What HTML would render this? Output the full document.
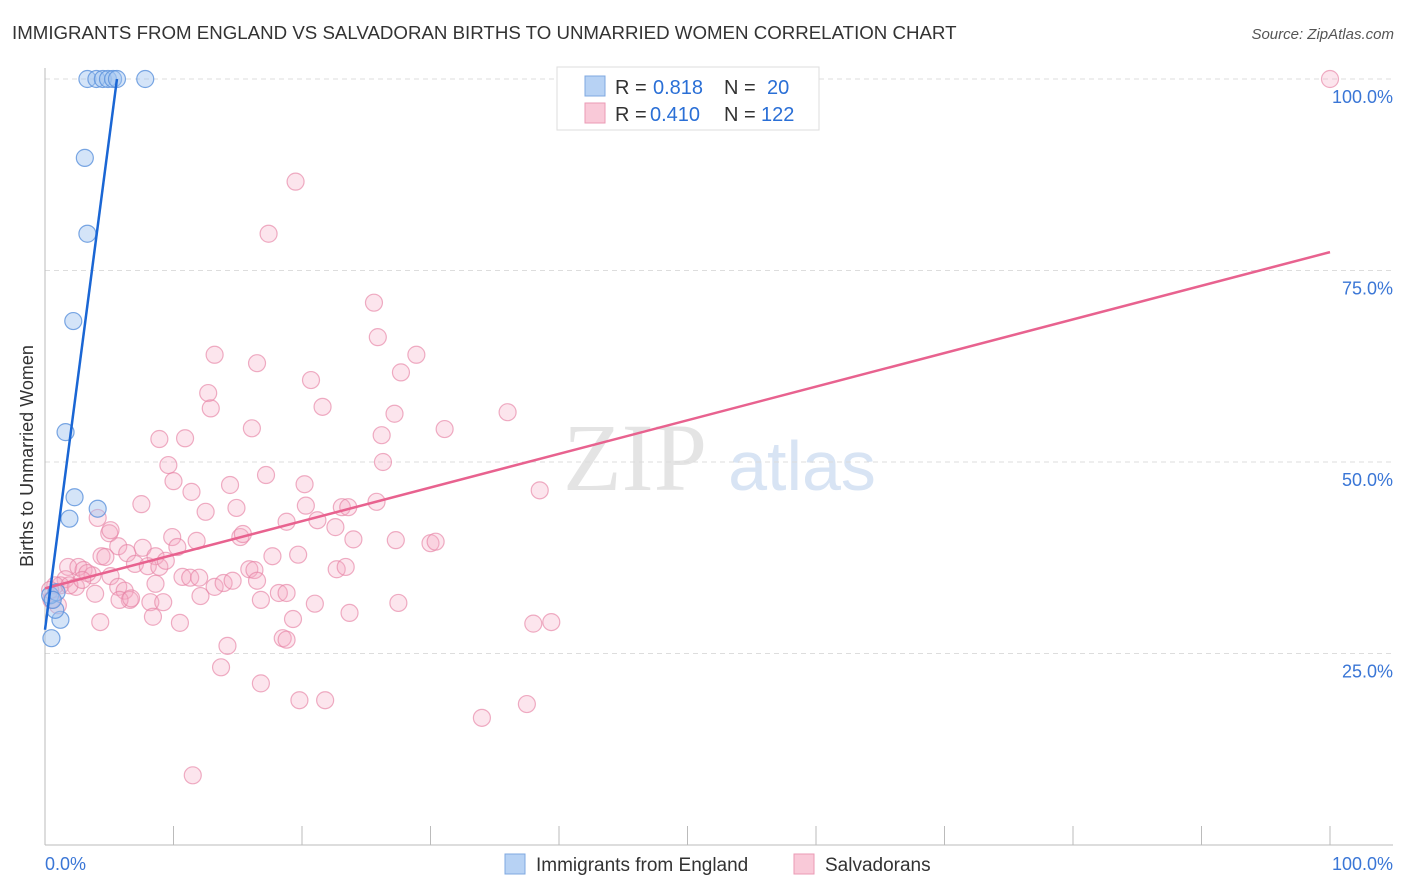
<!DOCTYPE html>
<html><head><meta charset="utf-8"><style>
body{margin:0;background:#fff;font-family:"Liberation Sans",sans-serif}
svg{display:block}
</style></head><body>
<svg id="chart" width="1406" height="892">
<text x="12" y="39" font-size="18.7" fill="#333">IMMIGRANTS FROM ENGLAND VS SALVADORAN BIRTHS TO UNMARRIED WOMEN CORRELATION CHART</text>
<text x="1394" y="39" font-size="15" fill="#555" font-style="italic" text-anchor="end">Source: ZipAtlas.com</text>
<text x="33" y="456" font-size="18" fill="#333" text-anchor="middle" transform="rotate(-90 33 456)">Births to Unmarried Women</text>
<text x="635" y="490" font-size="96" fill="#e4e4e4" font-family="Liberation Serif,serif" text-anchor="middle">ZIP</text>
<text x="802" y="490" font-size="70" fill="#d8e4f4" text-anchor="middle">atlas</text>
<g id="grid"></g><g id="axes"></g><g id="pts"></g><g id="lines"></g>
<g>
<rect x="557" y="67" width="262" height="63" fill="#fff" stroke="#ddd"/>
<rect x="585" y="76" width="20" height="20" fill="#b7d2f4" stroke="#7fa8e0"/>
<rect x="585" y="103" width="20" height="20" fill="#f9c9d8" stroke="#eb9ab5"/>
<g font-size="20" fill="#333">
<text x="615" y="94">R =</text>
<text x="653" y="94" fill="#2a6fd6">0.818</text>
<text x="724" y="94">N =</text>
<text x="767" y="94" fill="#2a6fd6">20</text>
<text x="615" y="121">R =</text>
<text x="650" y="121" fill="#2a6fd6">0.410</text>
<text x="724" y="121">N =</text>
<text x="761" y="121" fill="#2a6fd6">122</text>
</g>
</g>
<g>
<rect x="505" y="854" width="20" height="20" fill="#b7d2f4" stroke="#7fa8e0"/>
<text x="536" y="871" font-size="19" fill="#333">Immigrants from England</text>
<rect x="794" y="854" width="20" height="20" fill="#f9c9d8" stroke="#eb9ab5"/>
<text x="825" y="871" font-size="19" fill="#333">Salvadorans</text>
</g>
</svg>
<script>
const blueX=[3.3,4.0,4.5,4.9,5.3,5.6,7.8,3.1,3.3,2.2,1.6,2.3,1.9,4.1,0.5,1.2,0.8,0.4,0.9,0.6];
const blueY=[100,100,100,100,100,100,100,89.7,79.8,68.4,53.9,45.4,42.6,43.9,27.0,29.4,30.7,32.6,33.0,32.0];
const pinkX=[100,19.5,17.4,25.6,25.9,28.9,13.2,16.5,27.7,20.7,12.7,12.9,21.6,27.2,16.1,31.1,8.9,10.9,26.2,36.0,9.6,26.3,17.2,10.0,11.4,14.4,20.2,38.5,7.5,14.9,20.3,25.8,12.5,4.1,23.1,23.6,18.8,21.2,22.6,5.0,9.9,11.8,15.2,15.4,24.0,27.3,30.0,30.4,5.7,4.4,6.4,7.6,8.6,10.3,17.7,19.7,4.7,7.0,8.0,8.9,9.4,1.8,2.6,3.0,3.7,3.3,15.9,16.3,22.7,23.4,1.6,1.2,2.4,5.1,10.7,11.3,12.0,8.6,13.2,13.9,14.6,16.5,18.2,18.8,3.9,5.7,6.2,6.6,5.8,12.1,16.8,21.0,6.7,8.2,9.2,23.7,27.5,4.3,8.4,10.5,19.3,38.0,39.4,14.2,18.5,18.8,13.7,16.8,19.8,21.8,37.5,34.0,11.5,0.5,0.8,1.0,0.4,1.9,2.9,5.1];
const pinkY=[100,86.6,79.8,70.8,66.3,64.0,64.0,62.9,61.7,60.7,59.0,57.0,57.2,56.3,54.4,54.3,53.0,53.1,53.5,56.5,49.6,50.0,48.3,47.5,46.1,47.0,47.1,46.3,44.5,44.0,44.3,44.8,43.5,42.7,44.1,44.1,42.2,42.4,41.5,40.7,40.2,39.7,40.2,40.6,39.9,39.8,39.4,39.6,39.0,37.7,38.1,38.8,37.7,38.9,37.7,37.9,37.6,36.7,36.4,36.3,37.1,36.3,36.3,35.9,35.2,35.5,36.0,35.9,36.0,36.3,34.7,33.9,33.7,35.1,35.0,34.9,34.9,34.1,33.7,34.2,34.5,34.5,32.9,32.9,32.8,33.7,33.2,32.0,32.0,32.5,32.0,31.5,32.2,31.7,31.7,30.3,31.6,29.1,29.8,29.0,29.5,28.9,29.1,26.0,27.0,26.8,23.2,21.1,18.9,18.9,18.4,16.6,9.1,32.0,33.9,31.3,33.3,33.9,34.6,41.1];
const blueTrendX=[0,5.6];const blueTrendY=[28.1,100];
const pinkTrendX=[0,100];const pinkTrendY=[33.5,77.4];
const yTicks=[25,50,75,100];const yTickLabels=["25.0%","50.0%","75.0%","100.0%"];
const xTicks=[0,10,20,30,40,50,60,70,80,90,100];
const NS="http://www.w3.org/2000/svg";
const sx=v=>45+v*12.85, sy=v=>845-v*7.66;
function mk(tag,attrs,parent){const e=document.createElementNS(NS,tag);for(const k in attrs)e.setAttribute(k,attrs[k]);document.getElementById(parent).appendChild(e);return e;}
yTicks.forEach((t,i)=>{
 const g=mk('line',{x1:45,x2:1393,y1:sy(t),y2:sy(t),stroke:'#ddd','stroke-dasharray':'5,4'},'grid');
 
 
 const l=mk('text',{x:1393,y:sy(t)+24,'font-size':18,fill:'#3a76d6','text-anchor':'end'},'axes');
 l.textContent=yTickLabels[i];
 
 
});
const ax=mk('line',{x1:45,x2:45,y1:68,y2:845,stroke:'#bbb'},'axes');


const bx=mk('line',{x1:45,x2:1393,y1:845,y2:845,stroke:'#bbb'},'axes');


xTicks.forEach(t=>{
 const k=mk('line',{x1:sx(t),x2:sx(t),y1:826,y2:845,stroke:'#bbb'},'axes');
 
 
});
const x0=mk('text',{x:45,y:870,'font-size':18,fill:'#3a76d6'},'axes');x0.textContent='0.0%';


const x1=mk('text',{x:1393,y:870,'font-size':18,fill:'#3a76d6','text-anchor':'end'},'axes');x1.textContent='100.0%';


pinkX.forEach((v,i)=>{
 const c=mk('circle',{cx:sx(v),cy:sy(pinkY[i]),r:8.5,fill:'rgba(244,170,195,0.3)',stroke:'rgba(230,130,165,0.65)','stroke-width':1.2},'pts');
 
 
});
blueX.forEach((v,i)=>{
 const c=mk('circle',{cx:sx(v),cy:sy(blueY[i]),r:8.5,fill:'rgba(160,196,240,0.45)',stroke:'rgba(90,145,220,0.8)','stroke-width':1.2},'pts');
 
 
});
const pl=mk('line',{x1:sx(pinkTrendX[0]),y1:sy(pinkTrendY[0]),x2:sx(pinkTrendX[1]),y2:sy(pinkTrendY[1]),stroke:'#e8628f','stroke-width':2.5},'lines');


const bl=mk('line',{x1:sx(blueTrendX[0]),y1:sy(blueTrendY[0]),x2:sx(blueTrendX[1]),y2:sy(blueTrendY[1]),stroke:'#1a66d4','stroke-width':2.5},'lines');


</script>
</body></html>
